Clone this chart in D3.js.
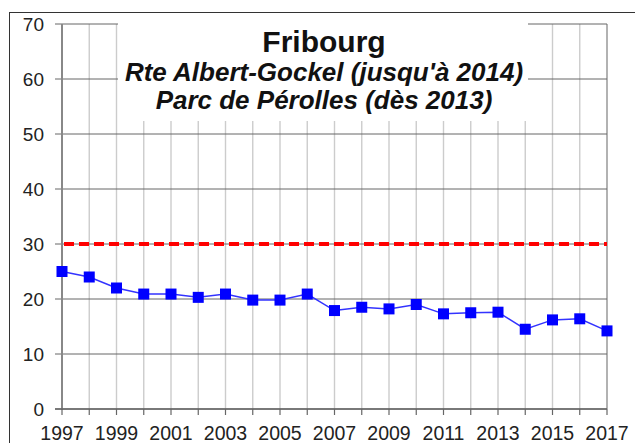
<!DOCTYPE html>
<html><head><meta charset="utf-8">
<script src="https://cdn.jsdelivr.net/npm/d3@7"></script>
<style>body{margin:0;background:#fff}svg{display:block}text{font-family:"Liberation Sans",Arial,sans-serif}</style>
</head><body><svg id="c" width="635" height="443"></svg>
<script>
const years = [1997,1998,1999,2000,2001,2002,2003,2004,2005,2006,2007,2008,2009,2010,2011,2012,2013,2014,2015,2016,2017];
const values = [25.0,24.0,22.0,20.9,20.9,20.3,20.9,19.8,19.8,20.9,17.9,18.5,18.2,19.0,17.3,17.5,17.6,14.5,16.2,16.4,14.2];
const limitValue = 30;
const yTicks = [0,10,20,30,40,50,60,70];
const xTickLabels = [1997,1999,2001,2003,2005,2007,2009,2011,2013,2015,2017];
const titleLines = ["Fribourg","Rte Albert-Gockel (jusqu'à 2014)","Parc de Pérolles (dès 2013)"];

const svg = d3.select("#c");
const x = d3.scaleLinear().domain([1997,2017]).range([62,607]);
const y = d3.scaleLinear().domain([0,70]).range([409,24]);

// outer frame
svg.append("rect").attr("x",9.5).attr("y",12.5).attr("width",700).attr("height",500)
  .attr("fill","none").attr("stroke","#333").attr("stroke-width",1);

// vertical grid
svg.append("g").selectAll("line").data(years).join("line")
  .attr("x1",d=>x(d)).attr("x2",d=>x(d)).attr("y1",y(0)).attr("y2",y(70))
  .attr("stroke",d=>d===2017?"#999":"#cccccc").attr("stroke-width",d=>d===2017?1.5:1.4);
// horizontal grid
svg.append("g").selectAll("line").data(yTicks).join("line")
  .attr("x1",55).attr("x2",x(2017)).attr("y1",d=>y(d)).attr("y2",d=>y(d))
  .attr("stroke","#666").attr("stroke-width",1);

// title box
svg.append("rect").attr("x",118).attr("y",22).attr("width",410).attr("height",99).attr("fill","#fff");

// axes
svg.append("line").attr("x1",x(1997)).attr("x2",x(1997)).attr("y1",y(0)+1).attr("y2",y(70))
  .attr("stroke","#888").attr("stroke-width",2);
svg.append("line").attr("x1",55).attr("x2",x(2017)).attr("y1",y(0)).attr("y2",y(0))
  .attr("stroke","#666").attr("stroke-width",1.5);
svg.append("g").selectAll("line").data(years).join("line")
  .attr("x1",d=>x(d)).attr("x2",d=>x(d)).attr("y1",y(0)).attr("y2",y(0)+6)
  .attr("stroke","#666").attr("stroke-width",1.2);

// y labels
svg.append("g").selectAll("text").data(yTicks).join("text")
  .attr("x",44).attr("y",d=>y(d)).attr("dy","0.35em").attr("text-anchor","end")
  .attr("font-size",19).attr("fill","#222").text(d=>d);
// x labels
svg.append("g").selectAll("text").data(xTickLabels).join("text")
  .attr("x",d=>x(d)).attr("y",440).attr("text-anchor","middle")
  .attr("font-size",19.5).attr("fill","#222").text(d=>d);

// title
svg.append("text").attr("x",324).attr("y",52).attr("text-anchor","middle")
  .attr("font-size",30).attr("font-weight","bold").attr("fill","#111").text(titleLines[0]);
svg.append("text").attr("x",324).attr("y",81).attr("text-anchor","middle")
  .attr("font-size",26).attr("font-weight","bold").attr("font-style","italic").attr("fill","#111").text(titleLines[1]);
svg.append("text").attr("x",324).attr("y",109).attr("text-anchor","middle")
  .attr("font-size",26).attr("font-weight","bold").attr("font-style","italic").attr("fill","#111").text(titleLines[2]);

// limit line
svg.append("line").attr("x1",x(1997)+2).attr("x2",x(2017)).attr("y1",y(limitValue)).attr("y2",y(limitValue))
  .attr("stroke","#ff0000").attr("stroke-width",4).attr("stroke-dasharray","10,5");

// data line
const pts = years.map((yr,i)=>[yr,values[i]]);
svg.append("path").datum(pts)
  .attr("d",d3.line().x(d=>x(d[0])).y(d=>y(d[1])))
  .attr("fill","none").attr("stroke","#3333ff").attr("stroke-width",1.5);
svg.append("g").selectAll("rect").data(pts).join("rect")
  .attr("x",d=>x(d[0])-5.5).attr("y",d=>y(d[1])-5.5).attr("width",11).attr("height",11)
  .attr("fill","#0000ff");
</script></body></html>
